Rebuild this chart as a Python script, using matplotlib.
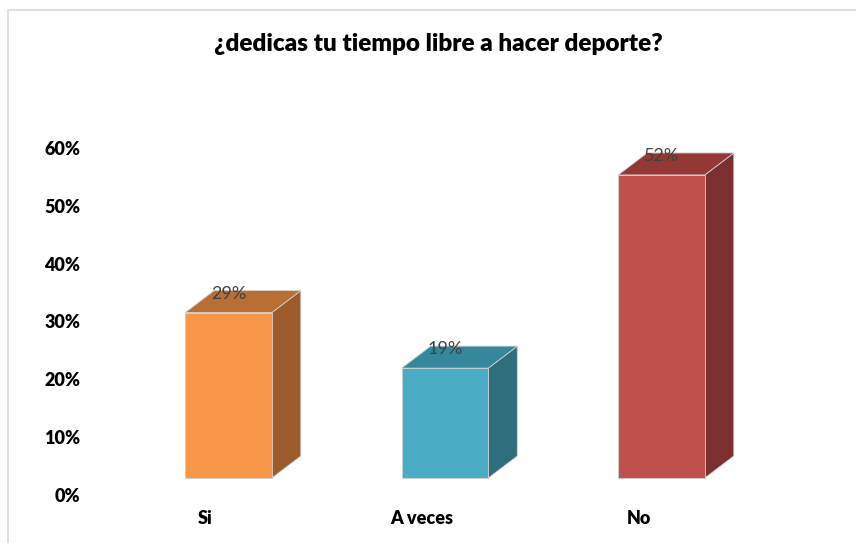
import matplotlib
matplotlib.use("Agg")
import matplotlib.pyplot as plt
from matplotlib.patches import Polygon, Rectangle
from matplotlib.transforms import IdentityTransform, ScaledTranslation

categories = ["Si", "A veces", "No"]
values = [0.286, 0.19, 0.524]
value_labels = ["29%", "19%", "52%"]
yticks = [0.0, 0.1, 0.2, 0.3, 0.4, 0.5, 0.6]
ytick_labels = ["0%", "10%", "20%", "30%", "40%", "50%", "60%"]
title = "¿dedicas tu tiempo libre a hacer deporte?"

front_colors = ["#F79646", "#4BACC6", "#C0504D"]
top_colors = ["#B96F33", "#35879C", "#943836"]
side_colors = ["#9B5B2B", "#2E6E7D", "#7B2F2E"]

plt.rcParams['font.family'] = ['Lato', 'DejaVu Sans']

W, H, DPI = 856, 543, 100
fig = plt.figure(figsize=(W / DPI, H / DPI), dpi=DPI)

# frame of the chart area
fig.patches.append(Rectangle((8 / W, -0.1), 1.2, (H - 10) / H + 0.1,
                             transform=fig.transFigure, fill=False,
                             edgecolor="#D9D9D9", linewidth=1.2, zorder=-5))

# axes placement (pixels)
ax_left, ax_right = 120.25, 769.75
ax_top, ax_bottom = 148, 495
ax = fig.add_axes([ax_left / W, (H - ax_bottom) / H,
                   (ax_right - ax_left) / W, (ax_bottom - ax_top) / H])
ax.set_xlim(-0.5, 2.5)
ax.set_ylim(0, 0.6)
for s in ax.spines.values():
    s.set_visible(False)
ax.patch.set_alpha(0)

bar_w = 0.40
floor_px = 17     # 3D floor offset
dx_px, dy_px = 29, 22   # depth of bars

fig.canvas.draw()
x = list(range(len(categories)))
for i, v in enumerate(values):
    (x0, y0) = ax.transData.transform((i - bar_w / 2, 0))
    (x1, y1) = ax.transData.transform((i + bar_w / 2, v))
    y0 += floor_px
    y1 += floor_px
    front = [(x0, y0), (x1, y0), (x1, y1), (x0, y1)]
    side = [(x1, y0), (x1 + dx_px, y0 + dy_px), (x1 + dx_px, y1 + dy_px), (x1, y1)]
    top = [(x0, y1), (x1, y1), (x1 + dx_px, y1 + dy_px), (x0 + dx_px, y1 + dy_px)]
    for poly, col in ((side, side_colors[i]), (top, top_colors[i]), (front, front_colors[i])):
        p = Polygon(poly, closed=True, facecolor=col, edgecolor="#D0D0D0",
                    linewidth=0.6, transform=IdentityTransform(), clip_on=False, zorder=2)
        ax.add_patch(p)
    ax.annotate(value_labels[i], xy=(i, v), xytext=(0, (floor_px + 19) * 72 / DPI),
                textcoords="offset points", ha="center", va="center",
                fontsize=13, color="#404040", zorder=10)

ax.set_yticks(yticks)
ax.set_yticklabels(ytick_labels, fontsize=13, fontweight="heavy", color="#000000")
ax.tick_params(axis="y", length=0, pad=40 * 72 / DPI)
ax.set_xticks(x)
ax.set_xticklabels(categories, fontsize=13, fontweight="heavy", color="#000000")
ax.tick_params(axis="x", length=0, pad=15 * 72 / DPI)
for lbl in ax.get_xticklabels():
    lbl.set_transform(lbl.get_transform() + ScaledTranslation(-23 / DPI, 0, fig.dpi_scale_trans))

fig.text(438 / W, 1 - 44 / H, title, ha="center", va="center",
         fontsize=17.5, fontweight="heavy", color="#000000")

fig.savefig("out.png", dpi=DPI, facecolor="white")
